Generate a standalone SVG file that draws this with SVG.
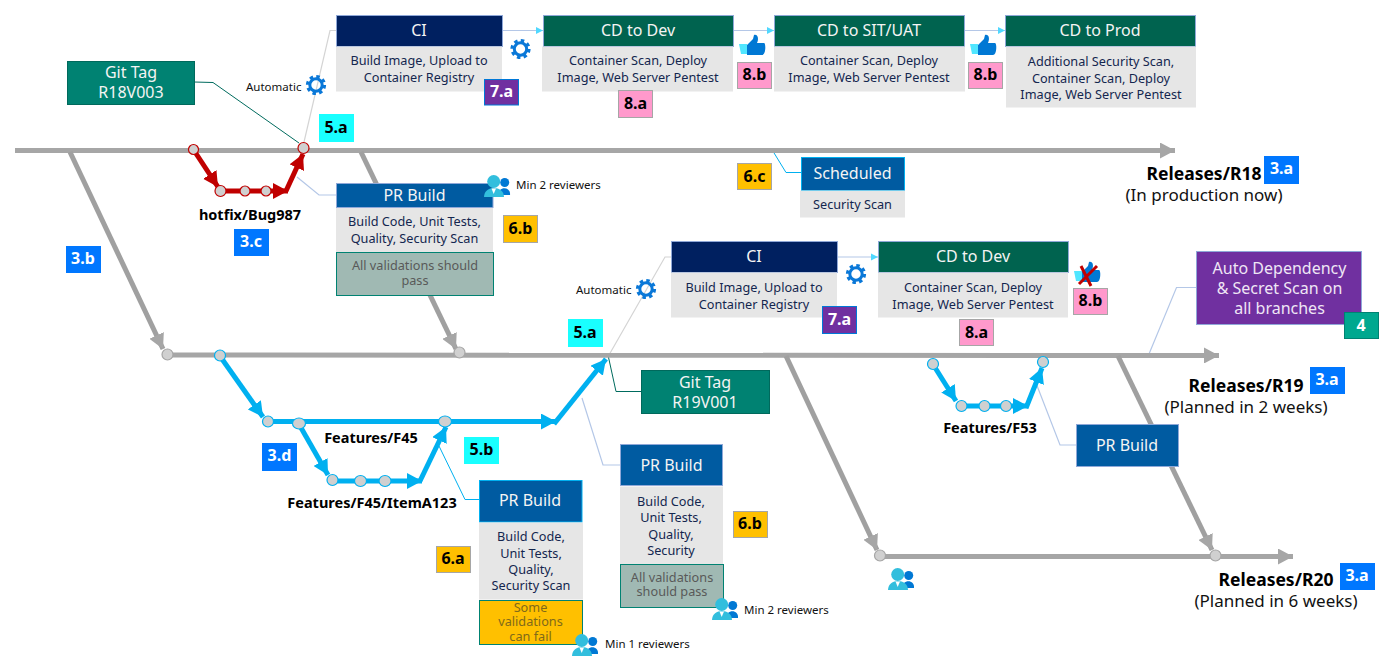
<svg xmlns="http://www.w3.org/2000/svg" width="1391" height="670" viewBox="0 0 1391 670">
<style>
text{font-family:"Noto Sans","Open Sans","Liberation Sans",sans-serif}
.h{font-size:16px;fill:#f4f4f4;text-anchor:middle}
.b{font-size:12.7px;fill:#14264f;text-anchor:middle}
.v{font-size:12.7px;fill:#595959;text-anchor:middle}
.y{font-size:12.7px;fill:#7f6a1a;text-anchor:middle}
.t{font-size:11.5px;fill:#111}
.l{font-size:14.5px;font-weight:700;fill:#000;text-anchor:middle}
.rb{font-size:17.5px;font-weight:700;fill:#000;text-anchor:middle}
.rn{font-size:17px;fill:#111;text-anchor:middle}
.bd{font-size:16px;font-weight:700;text-anchor:middle}
.bw{fill:#fff}.bk{fill:#000}
.body{fill:#e6e6e6}
.navy{fill:#002060;stroke:#8fa8d8}
.teal{fill:#00634f;stroke:#8fa8d8}
.pr{fill:#005ba1;stroke:#8fa8d8}
.prc{fill:#005ba1;stroke:#00b0f0}
.tag{fill:#008272;stroke:#00695c}
.ok{fill:#a0b9b3;stroke:#008272}
.warn{fill:#ffc000;stroke:#008272}
.blue{fill:#0077ff}
.cy{fill:#19ffff}
.am{fill:#ffc000;stroke:#a6a6a6}
.pk{fill:#ff99cc;stroke:#a6a6a6}
.pu{fill:#7030a0;stroke:#0078d7}
.gray{fill:none;stroke:#a6a6a6;stroke-width:5}
.grayd{fill:none;stroke:#a0a0a0;stroke-width:5}
.red{fill:none;stroke:#c00000;stroke-width:5}
.sky{fill:none;stroke:#00b0f0;stroke-width:5}
.thin{fill:none;stroke:#b4c7e7;stroke-width:1.2}
.thsky{fill:none;stroke:#00b0f0;stroke-width:1}
.thgr{fill:none;stroke:#006b5e;stroke-width:1}
.thlg{fill:none;stroke:#d4d4d4;stroke-width:1.2}
.n{fill:#d0d0d0;stroke:#a6a6a6;stroke-width:1.2}
.nr{fill:#d0d0d0;stroke:#c00000;stroke-width:1.2}
.ns{fill:#d0d0d0;stroke:#00b0f0;stroke-width:1.2}
</style>
<defs>
<marker id="mg" markerUnits="userSpaceOnUse" markerWidth="16" markerHeight="16" refX="15" refY="8" orient="auto"><path d="M0 0L15 8L0 16z" fill="#a6a6a6"/></marker>
<marker id="mr" markerUnits="userSpaceOnUse" markerWidth="16" markerHeight="16" refX="15" refY="8" orient="auto"><path d="M0 0L15 8L0 16z" fill="#c00000"/></marker>
<marker id="ms" markerUnits="userSpaceOnUse" markerWidth="16" markerHeight="16" refX="15" refY="8" orient="auto"><path d="M0 0L15 8L0 16z" fill="#00b0f0"/></marker>
<marker id="mc" markerUnits="userSpaceOnUse" markerWidth="8" markerHeight="8" refX="7" refY="4" orient="auto"><path d="M0 0.5L7 4L0 7.5z" fill="#50d8ff"/></marker>
<g id="gear"><circle r="6.200" fill="none" stroke="#0a78d8" stroke-width="3"/><circle r="8.400" fill="none" stroke="#0a78d8" stroke-width="3.400" stroke-dasharray="3.400 3.200"/></g>
<g id="people"><circle cx="20.700" cy="7.500" r="4.500" fill="#0078d4"/><path d="M14 20C14 11 27 11 26 20z" fill="#0078d4"/><circle cx="9.700" cy="6.500" r="6.500" fill="#32bedd"/><path d="M0 22C0 10 20 10 20 22z" fill="#32bedd"/><path d="M7.500 13.500L9.700 19L12 13.500z" fill="#fff"/></g>
<g id="thumb"><path d="M8 10L14 4L15 0C19 -1 20 4 18 8L25 8C27 8 27 20 23 20L8 20z" fill="#0078d4"/><path d="M0 9L8 9L8 19L2 19z" fill="#50e6ff"/></g>
</defs>
<g id="connectors">
<path class="thgr" d="M194 82L213 82.500L299 143"/>
<path class="thlg" d="M304 142L330 30.500L337 30.500"/>
<path class="thin" d="M297 177L319 195L337 195"/>
<path class="thsky" d="M771 148L786 172.500L801 172.500"/>
<path class="thlg" d="M609 355L665 257L671 257"/>
<path class="thgr" d="M608 355L616 391.500L641 391.500"/>
<path class="thin" d="M582 398L603 465L620 465"/>
<path class="thsky" d="M439 446L465 499.500L479 499.500"/>
<path class="thin" d="M1036 383L1060 445L1077 445"/>
<path class="thin" d="M1149 354L1176.500 287.500L1196 287.500"/>
<path class="thin" marker-end="url(#mc)" d="M503 30.500L543 30.500"/>
<path class="thin" marker-end="url(#mc)" d="M733 30.500L774 30.500"/>
<path class="thin" marker-end="url(#mc)" d="M965 30.500L1005 30.500"/>
<path class="thin" marker-end="url(#mc)" d="M837 257L878 257"/>
<path class="gray" marker-end="url(#mg)" d="M15 150.500L1175 150.500"/>
<path class="gray" marker-end="url(#mg)" d="M165 355L1219 355.500"/>
<path class="gray" marker-end="url(#mg)" d="M880 556.500L1293 556.500"/>
<path class="grayd" marker-end="url(#mg)" d="M70 152L163 349"/>
<path class="grayd" marker-end="url(#mg)" d="M361 152L456 349"/>
<path class="grayd" marker-end="url(#mg)" d="M786 356L877 550"/>
<path class="grayd" marker-end="url(#mg)" d="M1118 356L1212 550"/>
<path class="red" marker-end="url(#mr)" d="M195 152L218 187"/>
<path class="red" marker-end="url(#mr)" d="M222 191L288 191"/>
<path class="red" marker-end="url(#mr)" d="M286 191L303 154"/>
<path class="sky" marker-end="url(#ms)" d="M222 359L263 417"/>
<path class="sky" marker-end="url(#ms)" d="M268 421.500L556 421.500"/>
<path class="sky" marker-end="url(#ms)" d="M554 424L606 359"/>
<path class="sky" marker-end="url(#ms)" d="M300 426L328 475"/>
<path class="sky" marker-end="url(#ms)" d="M332 481L422 481"/>
<path class="sky" marker-end="url(#ms)" d="M420 481L446 427"/>
<path class="sky" marker-end="url(#ms)" d="M934 366L956 401"/>
<path class="sky" marker-end="url(#ms)" d="M961 406L1028 406"/>
<path class="sky" marker-end="url(#ms)" d="M1026 408L1042 368"/>
</g>
<g id="commits">
<circle class="nr" cx="193.500" cy="149.500" r="5"/><circle class="nr" cx="303.500" cy="148" r="5.500"/>
<circle class="nr" cx="220.500" cy="191" r="5.500"/><circle class="nr" cx="245" cy="191" r="5"/><circle class="nr" cx="266" cy="191" r="5"/>
<circle class="n" cx="167.500" cy="354.500" r="5.500"/><circle class="n" cx="459.500" cy="352.500" r="5.500"/>
<circle class="ns" cx="220" cy="355.500" r="5.500"/><circle class="ns" cx="268" cy="421.500" r="5.500"/>
<ellipse class="ns" cx="299" cy="423.500" rx="6.500" ry="5.500"/><ellipse class="ns" cx="445" cy="421.500" rx="6.500" ry="5.500"/>
<circle class="ns" cx="332.500" cy="480" r="5.500"/><ellipse class="ns" cx="360.500" cy="481" rx="6" ry="5.500"/><ellipse class="ns" cx="385" cy="481" rx="6" ry="5.500"/>
<circle class="ns" cx="933" cy="364" r="5.500"/><circle class="ns" cx="961.500" cy="406" r="5.500"/><circle class="ns" cx="984.500" cy="406" r="5.500"/><circle class="ns" cx="1006" cy="406" r="5.500"/><circle class="ns" cx="1043" cy="362" r="5.500"/>
<circle class="n" cx="880" cy="555.500" r="5.500"/><circle class="n" cx="1215.500" cy="555.500" r="5.500"/>
</g>
<g id="git-tag-r18"><rect class="tag" x="67.500" y="61.500" width="127" height="43"/><text class="h" x="131" y="78">Git Tag</text><text class="h" x="131" y="98">R18V003</text></g>
<g id="ci-r18"><rect class="navy" x="336.500" y="15.500" width="166" height="31"/><rect class="body" x="336" y="46.500" width="166" height="45"/><text class="h" x="419" y="36">CI</text><text class="b" x="419" y="65">Build Image, Upload to</text><text class="b" x="419" y="82">Container Registry</text></g>
<g id="cd-dev-r18"><rect class="teal" x="543.500" y="15.500" width="190" height="31"/><rect class="body" x="542" y="46.500" width="191" height="45"/><text class="h" x="638" y="36">CD to Dev</text><text class="b" x="638" y="65">Container Scan, Deploy</text><text class="b" x="638" y="82">Image, Web Server Pentest</text></g>
<g id="cd-sit-r18"><rect class="teal" x="774.500" y="15.500" width="190" height="31"/><rect class="body" x="774" y="46.500" width="191" height="45"/><text class="h" x="869" y="36">CD to SIT/UAT</text><text class="b" x="869" y="65">Container Scan, Deploy</text><text class="b" x="869" y="82">Image, Web Server Pentest</text></g>
<g id="cd-prod-r18"><rect class="teal" x="1005.500" y="15.500" width="190" height="31"/><rect class="body" x="1006" y="46.500" width="190" height="61"/><text class="h" x="1100" y="36">CD to Prod</text><text class="b" x="1101" y="66">Additional Security Scan,</text><text class="b" x="1101" y="83">Container Scan, Deploy</text><text class="b" x="1101" y="99">Image, Web Server Pentest</text></g>
<g id="pr-r18"><rect class="body" x="336" y="207" width="157" height="46"/><rect class="pr" x="336.500" y="183.500" width="156.500" height="24"/><rect class="ok" x="336.500" y="252.500" width="157" height="43"/><text class="h" x="414.500" y="201">PR Build</text><text class="b" x="414.500" y="226">Build Code, Unit Tests,</text><text class="b" x="414.500" y="243">Quality, Security Scan</text><text class="v" x="415" y="270">All validations should</text><text class="v" x="415" y="285">pass</text></g>
<g id="scheduled"><rect class="prc" x="801.500" y="157.500" width="103" height="33"/><rect class="body" x="800" y="190.500" width="105" height="27"/><text class="h" x="852.500" y="179">Scheduled</text><text class="b" x="852.500" y="209">Security Scan</text></g>
<g id="git-tag-r19"><rect class="tag" x="641.500" y="370.500" width="128" height="43"/><text class="h" x="705" y="388">Git Tag</text><text class="h" x="705" y="408">R19V001</text></g>
<g id="ci-r19"><rect class="navy" x="671.500" y="241.500" width="166" height="31"/><rect class="body" x="671" y="272.500" width="166" height="45"/><text class="h" x="754" y="262">CI</text><text class="b" x="754" y="292">Build Image, Upload to</text><text class="b" x="754" y="309">Container Registry</text></g>
<g id="cd-dev-r19"><rect class="teal" x="878.500" y="241.500" width="190" height="31"/><rect class="body" x="878" y="272.500" width="190" height="45"/><text class="h" x="973" y="262">CD to Dev</text><text class="b" x="973" y="292">Container Scan, Deploy</text><text class="b" x="973" y="309">Image, Web Server Pentest</text></g>
<g id="auto-scan"><rect fill="#7030a0" stroke="#8fa8d8" x="1196.500" y="251.500" width="165" height="73"/><text class="h" x="1279.500" y="274" style="fill:#efe6f5">Auto Dependency</text><text class="h" x="1279.500" y="294" style="fill:#efe6f5">&amp; Secret Scan on</text><text class="h" x="1279.500" y="314" style="fill:#efe6f5">all branches</text></g>
<g id="pr-f53"><rect class="pr" x="1076.500" y="424.500" width="102" height="42"/><text class="h" x="1127" y="451">PR Build</text></g>
<g id="pr-r19"><rect class="pr" x="620.500" y="444.500" width="102" height="41"/><rect class="body" x="620" y="486.500" width="103" height="78"/><rect class="ok" x="620.500" y="564.500" width="103" height="43"/><text class="h" x="671.500" y="471">PR Build</text><text class="b" x="671" y="506">Build Code,</text><text class="b" x="671" y="522">Unit Tests,</text><text class="b" x="671" y="539">Quality,</text><text class="b" x="671" y="555">Security</text><text class="v" x="672" y="582">All validations</text><text class="v" x="672" y="596">should pass</text></g>
<g id="pr-f45"><rect class="prc" x="479.500" y="480.500" width="102.500" height="41.500"/><rect class="body" x="479" y="522.500" width="104" height="77"/><rect class="warn" x="479.500" y="600.500" width="103" height="44"/><text class="h" x="530" y="506">PR Build</text><text class="b" x="531" y="541">Build Code,</text><text class="b" x="531" y="558">Unit Tests,</text><text class="b" x="531" y="574">Quality,</text><text class="b" x="531" y="590">Security Scan</text><text class="y" x="530.500" y="612">Some</text><text class="y" x="530.500" y="626">validations</text><text class="y" x="530.500" y="641">can fail</text></g>
<g id="icons">
<use href="#gear" x="316" y="85"/><use href="#gear" x="520.500" y="49"/><use href="#gear" x="646" y="289"/><use href="#gear" x="856" y="274"/>
<use href="#thumb" x="739" y="35"/><use href="#thumb" x="970" y="35"/><use href="#thumb" x="1074" y="262"/>
<path d="M1079 284L1097 266M1081 266L1091 286" fill="none" stroke="#c00000" stroke-width="3"/>
<use href="#people" x="484" y="175"/><use href="#people" x="572" y="634"/><use href="#people" x="712" y="598"/><use href="#people" x="888" y="568"/>
<text class="t" x="246" y="91">Automatic</text><text class="t" x="576" y="294">Automatic</text>
<text class="t" x="516" y="189">Min 2 reviewers</text><text class="t" x="605" y="648">Min 1 reviewers</text><text class="t" x="744" y="614">Min 2 reviewers</text>
</g>
<g id="labels">
<text class="l" x="250" y="220">hotfix/Bug987</text><text class="l" x="371" y="443">Features/F45</text><text class="l" x="372" y="508">Features/F45/ItemA123</text><text class="l" x="990" y="433">Features/F53</text>
<text class="rb" x="1204" y="180">Releases/R18</text><text class="rn" x="1204" y="201">(In production now)</text>
<text class="rb" x="1246" y="392">Releases/R19</text><text class="rn" x="1246" y="413">(Planned in 2 weeks)</text>
<text class="rb" x="1276" y="586">Releases/R20</text><text class="rn" x="1276" y="607">(Planned in 6 weeks)</text>
</g>
<g id="badges">
<rect class="pu" x="484.500" y="79.500" width="34" height="25.500"/><text class="bd bw" x="501.500" y="97">7.a</text>
<rect class="cy" x="319" y="114" width="35" height="28"/><text class="bd bk" x="336" y="133">5.a</text>
<rect class="blue" x="234" y="229" width="35" height="27"/><text class="bd bw" x="251" y="247">3.c</text>
<rect class="blue" x="66" y="246" width="35" height="27"/><text class="bd bw" x="83" y="264">3.b</text>
<rect class="am" x="503.500" y="215.500" width="34" height="27"/><text class="bd bk" x="520.500" y="234">6.b</text>
<rect class="pk" x="618.500" y="90.500" width="34" height="27"/><text class="bd bk" x="635.500" y="109">8.a</text>
<rect class="pk" x="737.500" y="62.500" width="34" height="26"/><text class="bd bk" x="754.500" y="80">8.b</text>
<rect class="pk" x="968.500" y="62.500" width="34" height="26"/><text class="bd bk" x="985.500" y="80">8.b</text>
<rect class="am" x="737.500" y="163.500" width="34" height="26"/><text class="bd bk" x="754.500" y="182">6.c</text>
<rect class="blue" x="1264" y="156" width="35" height="28"/><text class="bd bw" x="1281.500" y="174">3.a</text>
<rect class="pu" x="822.500" y="306.500" width="34" height="27"/><text class="bd bw" x="839.500" y="325">7.a</text>
<rect class="cy" x="568" y="319" width="35" height="28"/><text class="bd bk" x="585" y="338">5.a</text>
<rect class="pk" x="959.500" y="319.500" width="34" height="26"/><text class="bd bk" x="976.500" y="338">8.a</text>
<rect class="pk" x="1073.500" y="288.500" width="34" height="26"/><text class="bd bk" x="1090.500" y="306">8.b</text>
<rect fill="#00a88f" stroke="#008272" x="1344.500" y="312.500" width="34" height="26"/><text class="bd bw" x="1361" y="331">4</text>
<rect class="blue" x="1310" y="367" width="35" height="27"/><text class="bd bw" x="1327" y="385">3.a</text>
<rect class="blue" x="262" y="443" width="35" height="28"/><text class="bd bw" x="279.500" y="461">3.d</text>
<rect class="cy" x="464" y="437" width="35" height="27"/><text class="bd bk" x="481.500" y="455">5.b</text>
<rect class="am" x="436.500" y="546.500" width="34" height="26"/><text class="bd bk" x="453" y="564">6.a</text>
<rect class="am" x="733.500" y="511.500" width="34" height="26"/><text class="bd bk" x="750" y="529">6.b</text>
<rect class="blue" x="1340" y="563" width="35" height="27"/><text class="bd bw" x="1357" y="581">3.a</text>
</g>
</svg>
